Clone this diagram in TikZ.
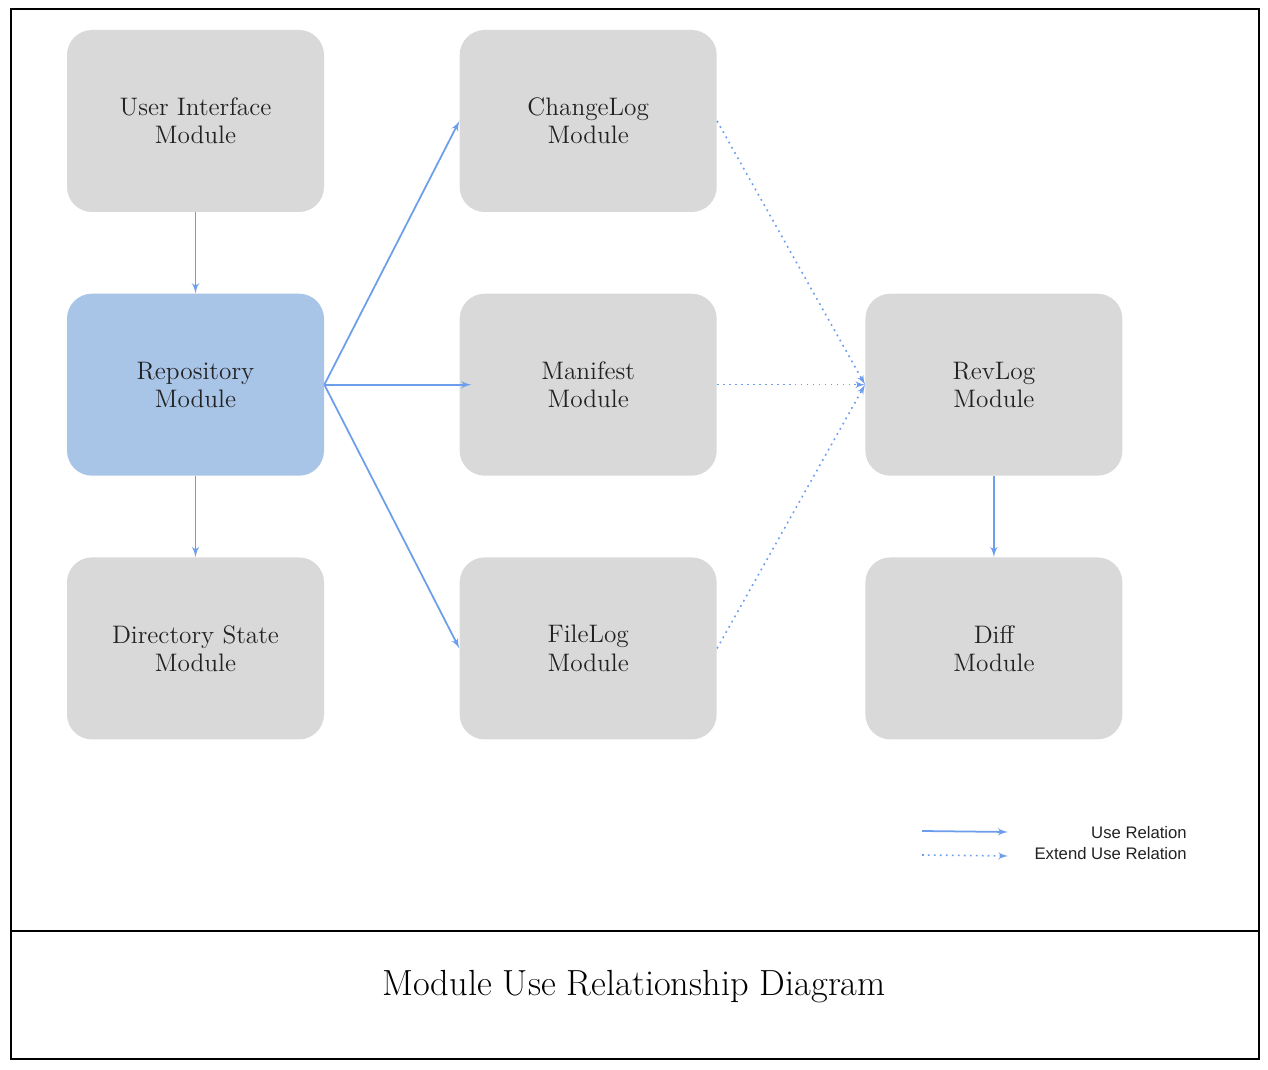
\documentclass[tikz,border=0pt]{standalone}
\usepackage{fontspec}
\newfontfamily\legendfont{Liberation Sans}
\usetikzlibrary{arrows,positioning}

\definecolor{boxgray}{HTML}{D9D9D9}
\definecolor{repoblue}{HTML}{A8C4E6}
\definecolor{linkblue}{HTML}{6D9EEB}
\definecolor{textgray}{HTML}{222222}

\tikzset{
  module/.style={rectangle,rounded corners=0.5cm,fill=boxgray,draw=none,
    minimum width=5.14cm,minimum height=3.64cm,align=center,
    text=textgray,font=\fontsize{14.4}{16}\selectfont},
  use/.style={->,draw=linkblue,line width=1pt},
  extuse/.style={->,draw=linkblue,line width=0.9pt,dash pattern=on 1pt off 2.4pt},
}

\begin{document}
\begin{tikzpicture}
            [>=latex',node distance=1.62cm]

            \useasboundingbox (0,0) rectangle (25.36,-21.4);
            \draw[line width=1.1pt] (0.22,-0.18) rectangle (25.18,-21.18);
            \draw[line width=1.1pt] (0.22,-18.62) -- (25.18,-18.62);

            \node (ui) [module] at (3.91,-2.42) {User Interface\\Module};
            \node (repo) [module,fill=repoblue,below=of ui] {Repository\\Module};
            \node (dirstate) [module,below=of repo] {Directory State\\Module};
            \node (manifest) [module,right=2.7cm of repo] {Manifest\\Module};
            \node (changelog) [module,above=of manifest] {ChangeLog\\Module};
            \node (filelog) [module,below=of manifest] {FileLog\\Module};
            \node (revlog) [module,right=2.96cm of manifest] {RevLog\\Module};
            \node (diff) [module,below=of revlog] {Diff\\Module};

            % use relations
            \draw[use] (ui) -- (repo);
            \draw[use] (repo) -- (dirstate);
            \draw[use] (repo.east) -- (changelog.west);
            \draw[use,shorten >=-0.24cm] (repo.east) -- (manifest.west);
            \draw[use] (repo.east) -- (filelog.west);
            \draw[use] (revlog) -- (diff);

            % extend use relations
            \draw[extuse] (changelog.east) -- (revlog.west);
            \draw[extuse] (manifest.east) -- (revlog.west);
            \draw[extuse] (filelog.east) -- (revlog.west);

            % legend
            \coordinate (usefrom) at (18.44,-16.62);
            \coordinate (useto) at (20.16,-16.64);
            \coordinate (extfrom) at (18.44,-17.1);
            \coordinate (extto) at (20.16,-17.12);
            \draw[use] (usefrom) -- (useto);
            \draw[extuse] (extfrom) -- (extto);
            \node (uselabel) [anchor=east,text=textgray,font=\legendfont\fontsize{9.5}{11}\selectfont]
              at (23.86,-16.66) {Use Relation};
            \node (extlabel) [anchor=east,text=textgray,font=\legendfont\fontsize{9.5}{11}\selectfont]
              at (23.86,-17.08) {Extend Use Relation};

            \node (caption) [font=\fontsize{20.7}{24}\selectfont] at (12.68,-19.74) {Module Use Relationship Diagram};
        \end{tikzpicture}
\end{document}
